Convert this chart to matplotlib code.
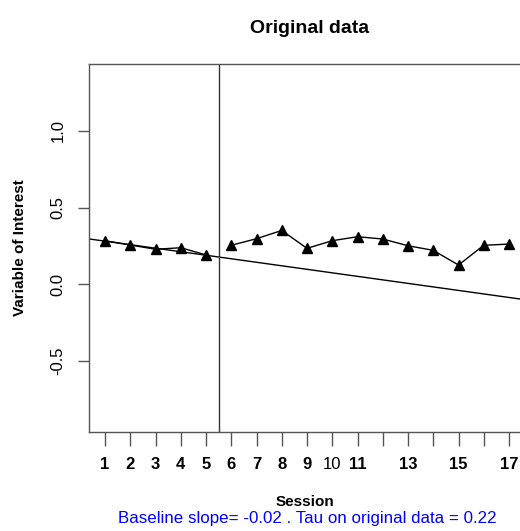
import numpy as np
import matplotlib
matplotlib.use("Agg")
import matplotlib.pyplot as plt

plt.rcParams['font.family'] = ['Liberation Sans', 'DejaVu Sans']

# data
baseline_x = [1, 2, 3, 4, 5]
baseline_y = [0.283, 0.255, 0.227, 0.237, 0.190]
treat_x = [6, 7, 8, 9, 10, 11, 12, 13, 14, 15, 16, 17]
treat_y = [0.253, 0.296, 0.350, 0.233, 0.283, 0.309, 0.294, 0.250, 0.220, 0.124, 0.253, 0.261]
trend_intercept = 0.303
trend_slope = -0.023
phase_change = 5.5
tick_pos = list(range(1, 18))
tick_lab = ['1', '2', '3', '4', '5', '6', '7', '8', '9', '10', '11', '', '13', '', '15', '', '17']
y_ticks = [-0.5, 0.0, 0.5, 1.0]

W, H = 520, 531
fig = plt.figure(figsize=(W / 100, H / 100), dpi=100)
ax = fig.add_axes([89 / W, (H - 432) / H, (530 - 89) / W, (432 - 64) / H])

ax.plot(baseline_x, baseline_y, color='black', lw=1, marker='^', ms=7)
ax.plot(treat_x, treat_y, color='black', lw=1, marker='^', ms=7)

# baseline trend (abline)
xs = np.array([0, 20])
ax.plot(xs, trend_intercept + trend_slope * xs, color='black', lw=1)
ax.axvline(phase_change, color='#333333', lw=1)

ax.set_xlim(1 + (89 - 105) / 25.25, 1 + (530 - 105) / 25.25)
ax.set_ylim(-(432 - 284) / 153, (284 - 64) / 153)

for s in ax.spines.values():
    s.set_color('#555555')
    s.set_linewidth(1)
ax.spines['right'].set_visible(False)

ax.set_xticks(tick_pos)
ax.set_xticklabels(tick_lab)
for t in ax.get_xticklabels():
    if t.get_text() != '10':
        t.set_fontweight('bold')
ax.tick_params(axis='x', length=10, width=1, color='#555555', labelsize=12, pad=8)
ax.set_yticks(y_ticks)
ax.set_yticklabels(['-0.5', '0.0', '0.5', '1.0'], rotation=90, va='center')
ax.tick_params(axis='y', length=8, width=1, color='#555555', labelsize=12, pad=9)

ax.set_title('Original data', fontsize=14, fontweight='bold', pad=22)
ax.set_ylabel('Variable of Interest', fontsize=11, fontweight='bold', labelpad=17)
fig.text(305 / W, 1 - 502 / H, 'Session', ha='center', va='center',
         fontsize=11, fontweight='bold')
fig.text(307 / W, 1 - 519 / H,
         'Baseline slope= -0.02 . Tau on original data = 0.22',
         ha='center', va='center', fontsize=12.2, color='blue')

fig.savefig('out.png', dpi=100)
